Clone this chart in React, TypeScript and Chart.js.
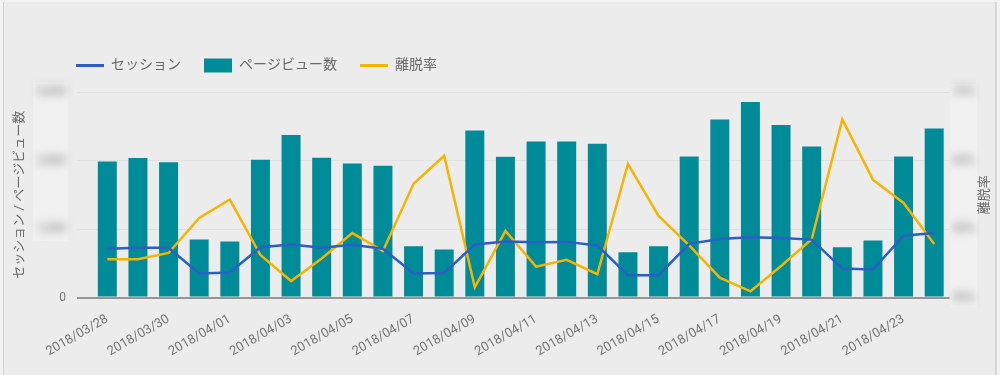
import React, { useEffect, useRef } from 'react';
import { Chart, registerables } from 'chart.js';

Chart.register(...registerables);

const categories = [
  '2018/03/28', '2018/03/29', '2018/03/30', '2018/03/31',
  '2018/04/01', '2018/04/02', '2018/04/03', '2018/04/04', '2018/04/05', '2018/04/06',
  '2018/04/07', '2018/04/08', '2018/04/09', '2018/04/10', '2018/04/11', '2018/04/12',
  '2018/04/13', '2018/04/14', '2018/04/15', '2018/04/16', '2018/04/17', '2018/04/18',
  '2018/04/19', '2018/04/20', '2018/04/21', '2018/04/22', '2018/04/23', '2018/04/24',
];

const sessions = [
  711, 725, 725, 350, 364, 734, 773, 725, 769, 711, 350, 358, 773, 816,
  806, 812, 759, 325, 325, 783, 855, 879, 870, 845, 422, 408, 903, 942,
];

const pageViews = [
  1987, 2035, 1973, 845, 816, 2012, 2373, 2040, 1958, 1925, 749, 701, 2439, 2055,
  2276, 2276, 2243, 662, 749, 2059, 2598, 2854, 2517, 2204, 734, 831, 2059, 2468,
];

const bounceRate = [
  45.6, 45.6, 46.5, 51.6, 54.3, 46.2, 42.4, 45.7, 49.4, 46.8, 56.6, 60.7, 41.5, 49.7,
  44.5, 45.5, 43.4, 59.5, 51.9, 47.6, 42.9, 40.9, 44.6, 48.5, 66.0, 57.2, 53.8, 47.8,
];

const leftTicks = [0, 1000, 2000, 3000];
const rightTicks = [40, 50, 60, 70];

const seriesNames = ['セッション', 'ページビュー数', '離脱率'];
const leftTitle = 'セッション / ページビュー数';
const rightTitle = '離脱率';

const FONT = "Roboto, 'Noto Sans CJK JP', 'Noto Sans', sans-serif";
const BLUE = '#2a5fc6';
const TEAL = '#008b99';
const YELLOW = '#f4b400';
const TEXT = '#6a6a6a';
const TICK = '#757575';

const decorPlugin = {
  id: 'decor',
  afterLayout(chart: any) {
    const lg = chart.legend;
    if (lg) {
      lg.left += 45;
      lg.right += 45;
      lg.top -= 9.5;
      lg.bottom -= 9.5;
    }
    for (const s of [chart.scales.y, chart.scales.y1]) {
      if (s && !s.__blurPatched) {
        const orig = s.drawLabels;
        s.drawLabels = function (area: any) {
          const c = this.ctx;
          c.save();
          c.filter = 'blur(4.5px)';
          orig.call(this, area);
          c.restore();
        };
        s.__blurPatched = true;
      }
    }
  },
  beforeDraw(chart: any) {
    const ctx = chart.ctx;
    const y = chart.scales.y;
    const y1 = chart.scales.y1;
    ctx.save();
    ctx.fillStyle = '#f1f1f1';
    const lTop = y.getPixelForValue(leftTicks[leftTicks.length - 1]) - 10;
    const lBot = y.getPixelForValue(leftTicks[1]) + 12;
    ctx.fillRect(y.right - 59, lTop, 35, lBot - lTop);
    const rTop = y1.getPixelForValue(rightTicks[rightTicks.length - 1]) - 8;
    const rBot = y1.getPixelForValue(rightTicks[0]) + 10;
    ctx.fillRect(y1.left + 0.5, rTop, 27, rBot - rTop);
    ctx.restore();
  },
  afterDraw(chart: any) {
    const ctx = chart.ctx;
    const y = chart.scales.y;
    const y1 = chart.scales.y1;
    ctx.save();
    ctx.font = `12px ${FONT}`;
    ctx.fillStyle = TICK;
    ctx.textAlign = 'right';
    ctx.textBaseline = 'middle';
    ctx.fillText('0', y.right - 15 - 11, y.getPixelForValue(0));
    ctx.restore();

    // right axis title
    ctx.save();
    ctx.font = `13px ${FONT}`;
    ctx.fillStyle = TEXT;
    ctx.textAlign = 'center';
    ctx.textBaseline = 'middle';
    ctx.translate(y1.right - 11, (chart.chartArea.top + chart.chartArea.bottom) / 2);
    ctx.rotate(-Math.PI / 2);
    ctx.fillText(rightTitle, 0, 0);
    ctx.restore();
  },
};

export default function App() {
  const ref = useRef<HTMLCanvasElement | null>(null);

  useEffect(() => {
    if (!ref.current) return;
    const chart = new Chart(ref.current, {
      type: 'bar',
      data: {
        labels: categories,
        datasets: [
          {
            type: 'line',
            label: seriesNames[0],
            data: sessions,
            yAxisID: 'y',
            borderColor: BLUE,
            backgroundColor: BLUE,
            borderWidth: 2.5,
            pointRadius: 0,
            tension: 0,
            order: 0,
          } as any,
          {
            type: 'bar',
            label: seriesNames[1],
            data: pageViews,
            yAxisID: 'y',
            backgroundColor: TEAL,
            borderWidth: 0,
            barPercentage: 0.62,
            categoryPercentage: 1,
            order: 2,
          } as any,
          {
            type: 'line',
            label: seriesNames[2],
            data: bounceRate,
            yAxisID: 'y1',
            borderColor: YELLOW,
            backgroundColor: YELLOW,
            borderWidth: 2.5,
            pointRadius: 0,
            tension: 0,
            order: 1,
          } as any,
        ],
      },
      options: {
        animation: false,
        responsive: false,
        devicePixelRatio: 1,
        layout: { padding: { left: 8, right: 4, top: 45, bottom: 0 } },
        plugins: {
          tooltip: { enabled: false },
          legend: {
            display: true,
            position: 'top',
            align: 'start',
            labels: {
              usePointStyle: true,
              pointStyleWidth: 28,
              boxHeight: 15,
              padding: 23,
              color: TEXT,
              font: { family: FONT, size: 14 },
              generateLabels: () => [
                { text: seriesNames[0], datasetIndex: 0, fillStyle: BLUE, strokeStyle: BLUE, lineWidth: 3, pointStyle: 'line', hidden: false, fontColor: TEXT },
                { text: seriesNames[1], datasetIndex: 1, fillStyle: TEAL, strokeStyle: TEAL, lineWidth: 0, pointStyle: 'rect', hidden: false, fontColor: TEXT },
                { text: seriesNames[2], datasetIndex: 2, fillStyle: YELLOW, strokeStyle: YELLOW, lineWidth: 3, pointStyle: 'line', hidden: false, fontColor: TEXT },
              ] as any,
            },
          },
        },
        scales: {
          x: {
            type: 'category',
            offset: true,
            grid: { display: false },
            border: { display: false },
            ticks: {
              autoSkip: false,
              minRotation: 30,
              maxRotation: 30,
              padding: 6,
              color: TICK,
              font: { family: FONT, size: 13 },
              callback: (_v: any, i: number) => (i % 2 === 0 ? categories[i] : ''),
            },
            afterFit: (s: any) => {
              s.height = 77.5;
            },
          },
          y: {
            type: 'linear',
            position: 'left',
            min: leftTicks[0],
            max: leftTicks[leftTicks.length - 1],
            afterBuildTicks: (s: any) => {
              s.ticks = leftTicks.map((v) => ({ value: v }));
            },
            ticks: {
              padding: 11,
              color: TICK,
              font: { family: FONT, size: 12 },
              callback: (v: any) => (v === 0 ? '' : Number(v).toLocaleString('en-US')),
            },
            grid: {
              color: (c: any) => (c.tick && c.tick.value === 0 ? '#959595' : '#e1e1e1'),
              lineWidth: (c: any) => (c.tick && c.tick.value === 0 ? 2 : 1),
              drawTicks: true,
              tickLength: 15,
            },
            border: { display: false },
            title: {
              display: true,
              text: leftTitle,
              color: TEXT,
              font: { family: FONT, size: 13 },
              padding: { top: 4, bottom: 4 },
            },
            afterFit: (s: any) => {
              s.width = 84;
            },
          },
          y1: {
            type: 'linear',
            position: 'right',
            min: rightTicks[0],
            max: rightTicks[rightTicks.length - 1],
            afterBuildTicks: (s: any) => {
              s.ticks = rightTicks.map((v) => ({ value: v }));
            },
            ticks: {
              padding: 3,
              color: TICK,
              font: { family: FONT, size: 12 },
              callback: (v: any) => `${v}%`,
            },
            grid: { display: false, drawTicks: false },
            border: { display: false },
            title: { display: false },
            afterFit: (s: any) => {
              s.width = 46.5;
            },
          },
        },
      } as any,
      plugins: [decorPlugin],
    });
    return () => chart.destroy();
  }, []);

  return (
    <div style={{ position: 'absolute', left: 0, top: 0, width: 1000, height: 375, background: '#f3f3f3', overflow: 'hidden' }}>
      <div
        style={{
          position: 'absolute',
          left: 3,
          top: 2,
          width: 991,
          height: 373,
          background: '#ececec',
          borderLeft: '1px solid #d2d2d2',
          borderRight: '2px solid #d6d6d6',
        }}
      />
      <canvas ref={ref} width={1000} height={375} style={{ position: 'absolute', left: 0, top: 0, width: 1000, height: 375, display: 'block' }} />
    </div>
  );
}
